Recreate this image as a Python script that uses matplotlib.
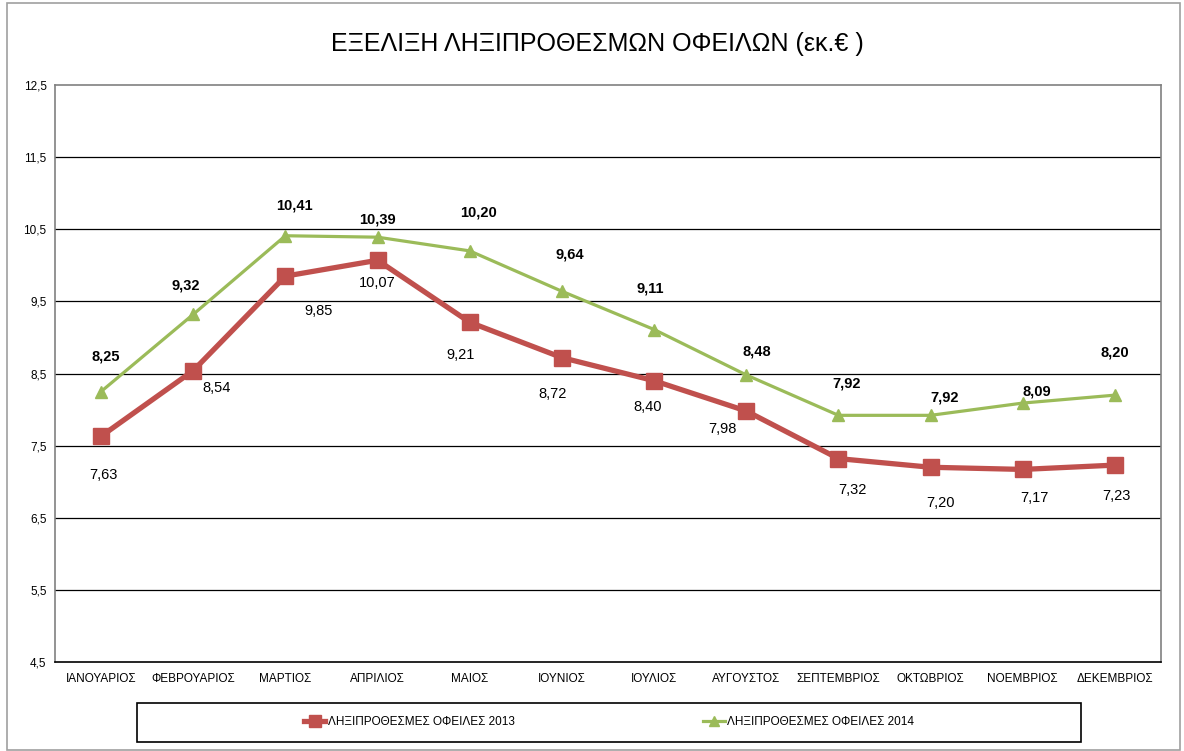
import matplotlib.pyplot as plt
from matplotlib.patches import Rectangle

plt.rcParams['font.family'] = ['Liberation Sans Narrow', 'Liberation Sans', 'DejaVu Sans']

# Δεδομένα
meses = ['ΙΑΝΟΥΑΡΙΟΣ', 'ΦΕΒΡΟΥΑΡΙΟΣ', 'ΜΑΡΤΙΟΣ', 'ΑΠΡΙΛΙΟΣ', 'ΜΑΙΟΣ', 'ΙΟΥΝΙΟΣ',
         'ΙΟΥΛΙΟΣ', 'ΑΥΓΟΥΣΤΟΣ', 'ΣΕΠΤΕΜΒΡΙΟΣ', 'ΟΚΤΩΒΡΙΟΣ', 'ΝΟΕΜΒΡΙΟΣ', 'ΔΕΚΕΜΒΡΙΟΣ']
valores_2013 = [7.63, 8.54, 9.85, 10.07, 9.21, 8.72, 8.40, 7.98, 7.32, 7.20, 7.17, 7.23]
valores_2014 = [8.25, 9.32, 10.41, 10.39, 10.20, 9.64, 9.11, 8.48, 7.92, 7.92, 8.09, 8.20]
yticks = [4.5, 5.5, 6.5, 7.5, 8.5, 9.5, 10.5, 11.5, 12.5]

# desplazamientos de etiquetas (pixeles) como en el original
off_2013 = [(2, -39), (23, -17), (33, -35), (0, -23), (-9, -33), (-9, -36),
            (-6, -26), (-24, -18), (14, -31), (10, -36), (12, -29), (2, -31)]
off_2014 = [(5, 35), (-8, 29), (9, 30), (0, 18), (9, 38), (8, 37),
            (-4, 41), (11, 23), (8, 32), (14, 18), (14, 12), (0, 43)]

rojo = '#C0504D'
verde = '#9BBB59'

fig = plt.figure(figsize=(11.84, 7.51), dpi=100)
W, H = 1184, 751
ax = fig.add_axes([55 / W, (H - 662) / H, (1161 - 55) / W, (662 - 85) / H])

x = list(range(len(meses)))
l1, = ax.plot(x, valores_2013, color=rojo, linewidth=3.8, marker='s', markersize=11,
              label='ΛΗΞΙΠΡΟΘΕΣΜΕΣ ΟΦΕΙΛΕΣ 2013', zorder=3)
l2, = ax.plot(x, valores_2014, color=verde, linewidth=2.3, marker='^', markersize=9,
              label='ΛΗΞΙΠΡΟΘΕΣΜΕΣ ΟΦΕΙΛΕΣ 2014', zorder=3)

for i, v in enumerate(valores_2013):
    ax.annotate(f'{v:.2f}'.replace('.', ','), (i, v), xytext=off_2013[i],
                textcoords='offset pixels', ha='center', va='center', fontsize=10.5)
for i, v in enumerate(valores_2014):
    ax.annotate(f'{v:.2f}'.replace('.', ','), (i, v), xytext=off_2014[i],
                textcoords='offset pixels', ha='center', va='center', fontsize=10.5,
                fontweight='bold')

ax.set_xlim(-0.5, len(meses) - 0.5)
ax.set_ylim(4.5, 12.5)
ax.set_xticks(x)
ax.set_xticklabels(meses, fontsize=8.5)
ax.set_yticks(yticks)
ax.set_yticklabels([f'{t:.1f}'.replace('.', ',') for t in yticks], fontsize=8.5)
ax.tick_params(length=0, pad=8)
ax.tick_params(axis='y', pad=6)
for t in yticks[1:-1]:
    ax.axhline(t, color='black', linewidth=0.9, zorder=1)
ax.spines['bottom'].set_color('black')
ax.spines['bottom'].set_linewidth(1.2)
for s in ['left', 'top', 'right']:
    ax.spines[s].set_color('#808080')
    ax.spines[s].set_linewidth(1.2)

fig.text(597 / W, 1 - 44 / H, 'ΕΞΕΛΙΞΗ ΛΗΞΙΠΡΟΘΕΣΜΩΝ ΟΦΕΙΛΩΝ (εκ.€ )',
         ha='center', va='center', fontsize=18)

# caja de la leyenda
fig.patches.append(Rectangle((137 / W, (H - 742) / H), (1081 - 137) / W, 39 / H,
                             transform=fig.transFigure, fill=False,
                             edgecolor='black', linewidth=1.2))
leg = fig.legend(handles=[l1, l2], loc='center', bbox_to_anchor=(609 / W, (H - 722) / H),
                 ncol=2, frameon=False, fontsize=8.5, columnspacing=16, handlelength=1.8,
                 handletextpad=0.2, markerscale=0.75)

# marco exterior
fig.patches.append(Rectangle((7 / W, 1 / H), (1180 - 7) / W, (H - 4) / H,
                             transform=fig.transFigure, fill=False,
                             edgecolor='#A0A0A0', linewidth=1.2))

plt.savefig('out.png', dpi=100)
